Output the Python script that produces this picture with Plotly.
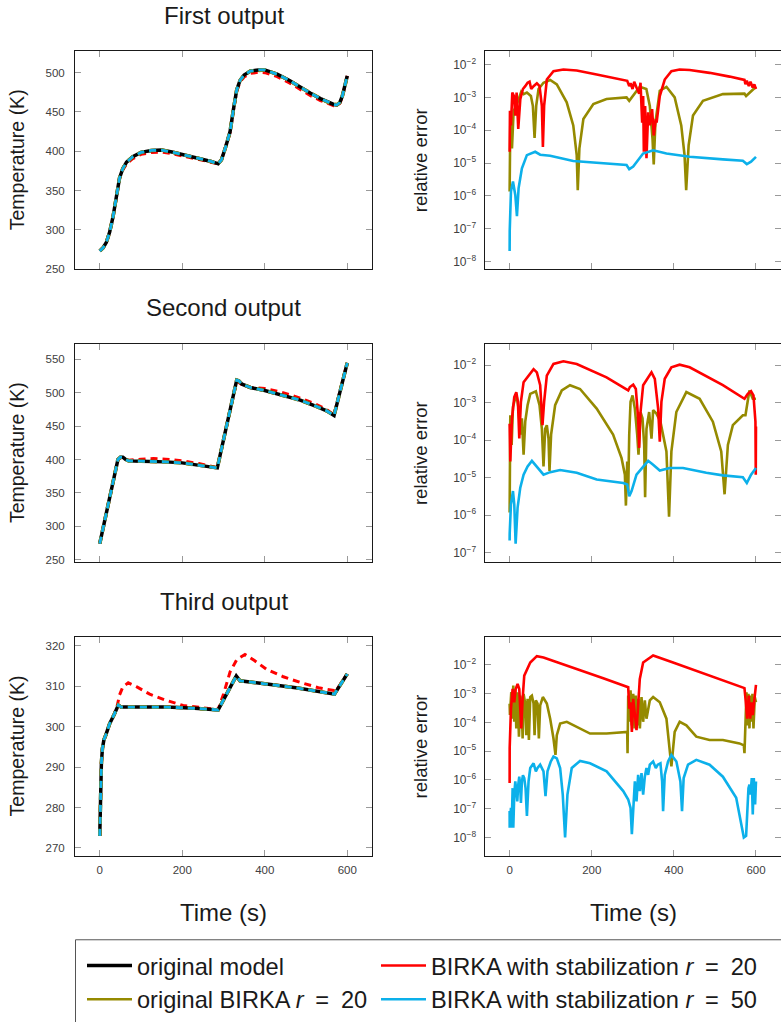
import plotly.graph_objects as go

# ---------------- data: left column (temperatures, K) ----------------
t1 = [0, 8, 16, 24, 32, 40, 48, 56, 65, 80, 100, 125, 150, 175, 200, 225, 250, 270, 287, 295,
      305, 316, 324, 332, 340, 350, 365, 385, 400, 430, 460, 486, 510, 535, 555, 567, 575, 582, 588, 594, 600]
T1_orig = [273, 277, 284, 297, 316, 343, 366, 378, 386, 393, 398.5, 401, 401.5, 399, 396, 393, 389.5, 387, 384, 389,
           405, 425, 453, 478, 490, 497, 502, 503.5, 503.5, 498, 490, 481.5, 474, 467, 462, 459.5, 459, 462, 470, 482, 496]
T1_stab20 = [273, 277, 284, 297, 316, 343, 365, 376, 384, 390.5, 396, 398.5, 399, 397, 394, 391, 388, 386, 384, 389,
             405, 424, 452, 476, 488, 494.5, 499, 500.5, 500, 495, 487, 478.5, 471, 464.5, 460, 458, 458, 461, 469, 481, 496]

t2 = [0, 44, 50, 56, 62, 70, 100, 130, 160, 200, 240, 270, 285, 332, 337, 345, 365, 400, 440, 486, 520, 550, 568, 600]
T2_orig = [274, 400, 403.5, 403.5, 400.5, 398, 397.5, 397.5, 396.5, 395, 392, 389, 387.5, 519, 518, 513, 508, 503.5,
           497, 489, 481, 473, 466, 545]
T2_stab20 = [274, 400, 403, 402.5, 400, 399, 400.5, 401.5, 400.5, 398, 394, 390, 388, 518, 516, 512, 508, 506.5,
             501, 492, 484, 475, 467, 545]

t3 = [0, 1, 2.5, 4, 6.5, 10, 15, 24, 35, 45, 52, 100, 162, 230, 287, 331, 340, 405, 480, 569, 600]
T3_orig = [273, 280, 287, 291, 294.6, 296.7, 298, 300.7, 303, 305.3, 304.8, 304.8, 304.8, 304.5, 304.1, 312.5, 311.3,
           310.5, 309.5, 308, 313]
t3_stab20 = [0, 1, 2.5, 4, 6.5, 10, 15, 24, 35, 42, 48, 56, 69, 90, 121, 160, 202, 250, 287, 300, 316, 332, 352, 375,
             405, 445, 486, 530, 567, 571, 600]
T3_stab20 = [273, 280, 287, 291, 294.6, 296.7, 298, 300.7, 303, 305, 307.8, 309.8, 310.8, 309.8, 308, 306.5, 305.2,
             304.6, 304.2, 308, 313.5, 316.5, 317.8, 316.3, 314.1, 312.3, 310.9, 309.6, 308.9, 308.6, 313]

# ---------------- data: right column (relative errors) ----------------
e1o_t = [0, 0.4, 1.6, 5.7, 9.7, 16.2, 21.8, 28.3, 34, 42, 51.8, 56.6, 60.7, 64.7, 70.4, 82.5, 98.7, 114.9, 139, 155,
         163.4, 165.9, 169.9, 179.6, 203.9, 236, 284.8, 291.3, 317, 333, 341.4, 348, 351, 355, 365.7, 382, 402, 418,
         426, 430, 436, 446.6, 470.9, 519.4, 572, 576, 600]
e1o = [1.35e-6, 2.2e-5, 1.55e-4, 2.8e-5, 3.9e-4, 5.5e-4, 8.9e-4, 1.5e-3, 1.26e-3, 1.4e-3, 1.1e-3, 5.5e-4, 5.8e-5,
       5.5e-4, 1.8e-3, 2.8e-3, 3.4e-3, 2.5e-3, 7.1e-4, 1.4e-4, 1.74e-5, 1.5e-6, 2.8e-5, 2.2e-4, 6.3e-4, 8.9e-4, 1.0e-3,
       7.9e-4, 2.1e-3, 1.8e-3, 5.5e-4, 5.5e-5, 9.1e-6, 1.7e-4, 1.6e-3, 2.1e-3, 1.0e-3, 1.4e-4, 1.74e-5, 1.5e-6, 3.5e-5,
       2.8e-4, 7.9e-4, 1.26e-3, 1.3e-3, 1.1e-3, 2.1e-3]
e1r_t = [0, 0.8, 3.2, 6.5, 10.5, 13.8, 17, 21, 26, 32.4, 38, 43.7, 48.5, 52.6, 58.3, 66.3, 72.8, 78.5, 81, 84,
         90.6, 106.8, 131, 163.4, 212, 276.7, 286.4, 291.3, 294.5, 299.4, 303.4, 309, 315.5, 318.8, 322.8, 325.2,
         326.9, 330, 333.3, 337.4, 341.4, 347, 351, 356, 358, 365.7, 377.8, 394, 414, 438.5, 487, 535.6, 572, 574.4,
         577.7, 582.5, 586.6, 592, 596, 600]
e1r = [2.2e-5, 3.9e-4, 1.4e-4, 1.4e-3, 1.1e-3, 2.8e-4, 1.4e-3, 1.1e-4, 8.9e-4, 1.8e-3, 2.2e-3, 2.8e-3, 3.0e-3, 1.8e-3,
       2.2e-3, 2.7e-3, 2.2e-3, 5.5e-4, 3.1e-5, 5.5e-4, 3.5e-3, 6.3e-3, 7.1e-3, 6.6e-3, 5.0e-3, 3.4e-3, 3.2e-3, 2.2e-3,
       2.7e-3, 1.8e-3, 3.0e-3, 2.0e-3, 1.3e-3, 2.8e-3, 1.7e-4, 1.1e-3, 2.2e-5, 5.5e-4, 1.4e-5, 3.5e-4, 1.4e-4, 4.4e-4,
       6.9e-5, 2.2e-4, 1.7e-4, 1.1e-3, 3.5e-3, 6.3e-3, 7.1e-3, 6.8e-3, 5.6e-3, 4.3e-3, 3.4e-3, 2.5e-3, 3.2e-3, 2.2e-3,
       3.0e-3, 2.0e-3, 2.5e-3, 1.8e-3]
e1b_t = [0, 0.2, 3.2, 8.1, 13.8, 17.8, 21.8, 29.9, 42, 62.3, 74.4, 98.7, 155, 236, 284.8, 291.3, 301, 325, 349.5, 382,
         438.5, 519.4, 568, 577.7, 588, 600]
e1b = [2.1e-8, 8.5e-8, 1.35e-6, 2.75e-6, 1.07e-6, 2.4e-7, 1.7e-6, 6.9e-6, 1.74e-5, 2.2e-5, 1.8e-5, 1.66e-5, 1.15e-5,
       9.5e-6, 8.7e-6, 6.5e-6, 7.8e-6, 1.95e-5, 2.45e-5, 1.95e-5, 1.55e-5, 1.29e-5, 1.17e-5, 9.3e-6, 1.1e-5, 1.55e-5]

e2o_t = [0, 0.1, 1.6, 4.9, 8.1, 16.2, 21.8, 25.9, 29.9, 34, 38, 43.7, 50.2, 63.9, 72.8, 78.5, 82.5, 86.6, 90.6, 94.7,
         97.1, 101, 110.8, 127, 147, 171.5, 212, 252, 272.6, 280.7, 283.2, 286.4, 288.8, 291.3, 294.5, 299.4, 305,
         310.7, 313.9, 318.8, 323.6, 327.7, 330, 333.3, 339.8, 345.5, 349.5, 357.6, 367.3, 381.9, 388.3, 394, 406,
         430.4, 462.8, 495, 515.4, 523.5, 531.6, 543.7, 568, 574.4, 584, 592.2, 600]
e2o = [1.17e-6, 2.7e-5, 4.6e-4, 7.4e-5, 7.6e-4, 1.7e-3, 6.9e-4, 1.4e-4, 3.8e-4, 4.1e-5, 3.1e-4, 8.5e-4, 1.7e-3,
       2.0e-3, 8.5e-4, 2.0e-4, 2.0e-5, 2.0e-4, 2.5e-4, 1.1e-4, 1.5e-5, 1.4e-4, 8.5e-4, 2.1e-3, 2.9e-3, 2.3e-3, 6.9e-4,
       1.4e-4, 3.3e-5, 1.2e-5, 1.8e-6, 2.7e-5, 4.4e-6, 1.4e-4, 1.05e-3, 1.55e-3, 6.9e-4, 1.4e-4, 4.1e-5, 5.6e-4,
       3.8e-4, 7.4e-5, 3.0e-6, 2.0e-4, 5.6e-4, 1.1e-4, 6.3e-4, 5.1e-4, 3.1e-4, 5.0e-5, 9.1e-7, 5.0e-5, 5.6e-4, 1.9e-3,
       1.26e-3, 3.1e-4, 5.0e-5, 3.6e-6, 7.4e-5, 2.5e-4, 4.6e-4, 4.6e-4, 2.1e-3, 1.26e-3, 1.26e-3]
e2r_t = [0, 1.6, 5.7, 11.3, 16.2, 20.2, 23.5, 27.5, 34, 46.1, 58.3, 66.3, 74.4, 80, 84, 90.6, 106.8, 131, 163.4, 236,
         288.8, 292.9, 301, 307.4, 313, 315.5, 318.8, 325.2, 337.4, 345.5, 353.6, 361.7, 365.7, 369.7, 377.8, 394, 414,
         438.5, 519.4, 572, 580, 588, 593.9, 598.7, 599.5, 600]
e2r = [2.75e-4, 2.7e-5, 3.8e-4, 1.4e-3, 1.9e-3, 1.05e-3, 1.1e-4, 1.05e-3, 3.5e-3, 5.2e-3, 7.8e-3, 6.4e-3, 2.9e-3,
       2.5e-4, 1.05e-3, 5.2e-3, 1.07e-2, 1.26e-2, 1.07e-2, 4.7e-3, 2.1e-3, 2.6e-3, 3.0e-3, 2.3e-3, 3.8e-4, 6.2e-5,
       5.6e-4, 2.9e-3, 4.7e-3, 6.4e-3, 4.3e-3, 6.9e-4, 9.1e-5, 1.05e-3, 4.3e-3, 8.7e-3, 1.02e-2, 8.7e-3, 2.9e-3,
       1.26e-3, 1.7e-3, 2.0e-3, 1.55e-3, 3.1e-4, 1.2e-5, 2.3e-4]
e2b_t = [0, 0.1, 3.2, 8.1, 11.3, 14.6, 19.4, 25.9, 34, 43.7, 54.2, 66.3, 82.5, 98.7, 123, 163.4, 212, 276.7, 286.4,
         291.3, 297, 309, 325.2, 337.4, 349.5, 365.7, 390, 422.3, 479, 519.4, 568, 577.7, 588, 600]
e2b = [2.1e-7, 3.2e-7, 1.95e-6, 4.4e-6, 1.95e-6, 1.74e-7, 1.6e-6, 5.4e-6, 1.2e-5, 2.0e-5, 2.8e-5, 2.0e-5, 1.2e-5,
       1.4e-5, 1.6e-5, 1.35e-5, 8.9e-6, 7.2e-6, 6.6e-6, 3.2e-6, 4.4e-6, 1.2e-5, 2.0e-5, 2.8e-5, 2.2e-5, 1.55e-5,
       1.8e-5, 1.8e-5, 1.35e-5, 1.15e-5, 1.02e-5, 7.2e-6, 1.2e-5, 1.8e-5]

e3o_t = [0, 0.8, 2.4, 4, 6.5, 8.9, 11.3, 13.8, 16.2, 19.4, 22.7, 25.9, 29.1, 31.6, 34, 38, 40.5, 43.7, 46.9, 50.2,
         54.2, 58.3, 60.7, 63.9, 68, 71.2, 74.4, 80.9, 90.6, 98.7, 106.8, 111.7, 114.9, 123, 139.2, 163.4, 195.8,
         236.2, 276.7, 286.4, 287.2, 288.8, 291.3, 294.5, 297.7, 301, 304.2, 307.4, 310.7, 313.9, 317.2, 321.2,
         325.2, 329.3, 333.3, 341.4, 349.5, 365.7, 381.9, 394, 402, 414.2, 430.4, 454.7, 487, 519.4, 559.9, 570.4,
         572, 574.4, 576.9, 579.3, 581.7, 584.1, 586.6, 589, 591.4, 593.9, 597.1, 600]
e3o = [4.5e-4, 1.8e-4, 4.5e-4, 1.12e-3, 1.35e-4, 1.9e-3, 1.05e-4, 1.45e-3, 6.2e-5, 1.12e-3,
       3.2e-5, 8.5e-4, 5.0e-4, 2.75e-5, 9.8e-4, 4.5e-4, 3.6e-5, 6.6e-4, 2.45e-5, 7.6e-4,
       8.5e-4, 4.5e-4, 3.6e-5, 5.8e-4, 4.5e-4, 2.75e-5, 3.9e-4, 7.6e-4, 4.5e-4, 1.35e-4,
       2.75e-5, 7.4e-6, 3.6e-5, 9.1e-5, 1.05e-4, 6.9e-5, 4.1e-5, 4.1e-5, 4.7e-5, 4.7e-5,
       8.5e-6, 8.5e-4, 1.05e-4, 1.3e-3, 7.9e-5, 9.8e-4, 6.2e-5, 8.5e-4, 7.9e-5, 6.6e-4,
       6.2e-5, 7.6e-4, 1.05e-4, 5.8e-4, 1.35e-4, 5.8e-4, 7.6e-4, 5.0e-4, 1.35e-4, 2.95e-6,
       4.7e-5, 1.05e-4, 7.9e-5, 3.2e-5, 2.45e-5, 2.45e-5, 1.86e-5, 1.6e-5, 8.5e-6, 1.8e-4,
       1.12e-3, 7.9e-5, 9.8e-4, 6.2e-5, 8.5e-4, 1.05e-4, 9.8e-4, 6.2e-5, 7.6e-4, 5.0e-4]
e3r_t = [0, 0.1, 3.2, 7.3, 11.3, 14.6, 19.4, 23.5, 25.9, 28.3, 31.6, 35.6, 50.2, 66.3, 82.5, 147.2, 228, 288.8, 291.3,
         294.5, 297.7, 301, 305, 309, 313, 317, 325.2, 349.5, 398, 519.4, 572, 576, 578.5, 582.5, 585.8, 589.8, 592.2,
         596.3, 600]
e3r = [7.8e-7, 1.26e-5, 3.0e-4, 1.45e-3, 5.0e-4, 1.45e-3, 2.15e-3, 1.45e-3, 3.0e-4, 6.2e-5, 6.6e-4, 4.2e-3, 1.2e-2,
       2.0e-2, 1.8e-2, 8.7e-3, 3.4e-3, 1.66e-3, 3.0e-4, 5.0e-4, 4.7e-5, 6.6e-4, 2.3e-4, 5.4e-5, 3.9e-4, 3.2e-3, 1.2e-2,
       2.1e-2, 1.2e-2, 2.9e-3, 1.55e-3, 3.9e-4, 1.35e-4, 8.5e-4, 1.35e-4, 5.0e-4, 1.8e-4, 6.6e-4, 2.0e-3]
e3b_t = [0, 0.1, 3.2, 4.9, 7.3, 8.9, 11.3, 13.8, 16.2, 18.6, 21, 23.5, 25.9, 27.5, 29.9, 32.4, 35.6, 38.8, 42.1, 46.1,
         50.2, 58.3, 63.9, 68, 74.4, 82.5, 87.4, 92.2, 100.3, 106.8, 114.9, 123, 129.4, 135.1, 140.8, 151.3, 171.5,
         195.8, 236.2, 276.7, 288.8, 294.5, 297.7, 301, 305, 309, 313, 317.2, 321.2, 325.2, 329.3, 333.3, 337.4,
         341.4, 349.5, 356, 360.8, 367.3, 371.4, 373.8, 377.8, 385.9, 394, 406.1, 415.9, 419.9, 423.9, 434.5, 454.7,
         487, 519.4, 551.8, 566.3, 570.4, 576, 578.5, 581.7, 584.1, 586.6, 589.8, 592.2, 594.7, 597.9, 600]
e3b = [8.3e-8, 2.2e-8, 1.07e-7, 2.2e-8, 5.2e-7, 2.2e-8, 3.1e-7, 8.9e-7, 4.1e-7, 1.8e-7,
       6.9e-7, 1.3e-6, 5.2e-7, 1.6e-7, 8.9e-7, 1.45e-6, 1.17e-6, 5.2e-7, 5.6e-8, 8.9e-7,
       2.6e-6, 3.8e-6, 2.0e-6, 2.6e-6, 3.4e-6, 2.0e-6, 2.75e-7, 2.0e-6, 4.4e-6, 6.5e-6,
       5.6e-6, 2.6e-6, 3.1e-7, 1.0e-8, 3.1e-7, 2.6e-6, 4.6e-6, 3.8e-6, 2.0e-6, 4.1e-7,
       2.1e-7, 1.07e-7, 1.3e-8, 1.07e-7, 8.9e-7, 1.8e-7, 1.5e-6, 4.1e-7, 1.74e-6, 3.1e-7,
       1.3e-6, 2.6e-6, 1.5e-6, 3.4e-6, 4.4e-6, 2.6e-6, 3.4e-6, 3.8e-6, 8.9e-7, 8.3e-8,
       1.5e-6, 4.4e-6, 7.4e-6, 4.4e-6, 8.9e-7, 8.3e-8, 1.17e-6, 3.4e-6, 5.0e-6, 3.4e-6,
       1.3e-6, 2.4e-7, 2.2e-8, 1.0e-8, 1.15e-8, 1.07e-7, 5.2e-7, 6.9e-7, 3.1e-7, 1.17e-6,
       6.3e-8, 1.17e-6, 1.4e-7, 8.9e-7]

titles = ["First output", "Second output", "Third output"]
x_ticks = [0, 200, 400, 600]
EQ = "\u2002=\u2002"
names = ["original model", "original BIRKA <i>r</i>" + EQ + "20",
         "BIRKA with stabilization <i>r</i>" + EQ + "20", "BIRKA with stabilization <i>r</i>" + EQ + "50"]

# ---------------- style ----------------
W, H = 781, 1022
FONT = "Liberation Sans"
C_BLACK, C_OLIVE, C_RED, C_BLUE = "#000000", "#958a00", "#ff0000", "#0cb0ea"
DASH = "7px,5px"


def X(px):
    return px / W


def Y(py):
    return 1 - py / H


fig = go.Figure()

left = [(t1, T1_orig, t1, T1_stab20), (t2, T2_orig, t2, T2_stab20), (t3, T3_orig, t3_stab20, T3_stab20)]
right = [(e1o_t, e1o, e1r_t, e1r, e1b_t, e1b), (e2o_t, e2o, e2r_t, e2r, e2b_t, e2b),
         (e3o_t, e3o, e3r_t, e3r, e3b_t, e3b)]

for i in range(3):
    xl, yl = f"x{2 * i + 1}", f"y{2 * i + 1}"
    xr, yr = f"x{2 * i + 2}", f"y{2 * i + 2}"
    tt, Torig, tr, Tr = left[i]
    first = i == 0
    fig.add_trace(go.Scatter(x=tr, y=Tr, mode="lines", xaxis=xl, yaxis=yl, showlegend=False,
                             line=dict(color=C_RED, width=3, dash=DASH)))
    fig.add_trace(go.Scatter(x=tt, y=Torig, mode="lines", xaxis=xl, yaxis=yl, name=names[0],
                             showlegend=first, legend="legend", legendrank=1,
                             line=dict(color=C_BLACK, width=3.5)))
    fig.add_trace(go.Scatter(x=tt, y=Torig, mode="lines", xaxis=xl, yaxis=yl, showlegend=False,
                             line=dict(color=C_OLIVE, width=3.6, dash=DASH)))
    fig.add_trace(go.Scatter(x=tt, y=Torig, mode="lines", xaxis=xl, yaxis=yl, showlegend=False,
                             line=dict(color=C_BLUE, width=2.8, dash=DASH)))

    ot, ov, rt, rv, bt, bv = right[i]
    fig.add_trace(go.Scatter(x=ot, y=ov, mode="lines", xaxis=xr, yaxis=yr, name=names[1],
                             showlegend=first, legend="legend", legendrank=2,
                             line=dict(color=C_OLIVE, width=2.6)))
    fig.add_trace(go.Scatter(x=rt, y=rv, mode="lines", xaxis=xr, yaxis=yr, name=names[2],
                             showlegend=first, legend="legend2", legendrank=1,
                             line=dict(color=C_RED, width=2.6)))
    fig.add_trace(go.Scatter(x=bt, y=bv, mode="lines", xaxis=xr, yaxis=yr, name=names[3],
                             showlegend=first, legend="legend2", legendrank=2,
                             line=dict(color=C_BLUE, width=2.6)))

base_ax = dict(showline=True, linecolor="#1a1a1a", linewidth=1, mirror="ticks", ticks="inside",
               ticklen=6, tickwidth=1, tickcolor="#9a9a9a", showgrid=False, zeroline=False,
               automargin=False, tickfont=dict(family=FONT, size=11.5, color="#404040"))

row_py = [(52, 272), (348, 568), (644, 865)]
left_ranges = [[250, 527], [246.6, 572.8], [268.1, 322.1]]
left_dtick = [50, 50, 10]
left_tick0 = [250, 250, 270]
right_ranges = [[-8.23, -1.6], [-7.245, -1.446], [-8.63, -1.036]]

layout = dict(width=W, height=H, margin=dict(l=0, r=0, t=0, b=0), paper_bgcolor="white",
              plot_bgcolor="white", font=dict(family=FONT, color="#222"))
for i in range(3):
    top, bot = row_py[i]
    ydom = [Y(bot), Y(top)]
    last = i == 2
    nl, nr = 2 * i + 1, 2 * i + 2
    layout[f"xaxis{nl}"] = dict(base_ax, domain=[X(75), X(372)], range=[-60, 660], tickvals=x_ticks,
                                showticklabels=last, anchor=f"y{nl}", ticklabelstandoff=4)
    layout[f"yaxis{nl}"] = dict(base_ax, domain=ydom, range=left_ranges[i], dtick=left_dtick[i],
                                tick0=left_tick0[i], anchor=f"x{nl}", ticklabelstandoff=7)
    layout[f"xaxis{nr}"] = dict(base_ax, domain=[X(485), 0.9995], range=[-60, 660], tickvals=x_ticks,
                                showticklabels=last, anchor=f"y{nr}", ticklabelstandoff=4)
    layout[f"yaxis{nr}"] = dict(base_ax, domain=ydom, type="log", range=right_ranges[i], dtick=1,
                                exponentformat="power", anchor=f"x{nr}", ticklabelstandoff=6,
                                tickfont=dict(family=FONT, size=9.6, color="#404040"))

leg_common = dict(orientation="v", xanchor="left", yanchor="top", bgcolor="rgba(0,0,0,0)",
                  borderwidth=0, font=dict(family=FONT, size=23.6, color="#1a1a1a"),
                  itemwidth=45, tracegroupgap=0, traceorder="normal")
layout["legend"] = dict(leg_common, x=X(82), y=Y(954))
layout["legend2"] = dict(leg_common, x=X(376), y=Y(954))
layout["showlegend"] = True

annotations = []
for i in range(3):
    annotations.append(dict(text=titles[i], x=X(223.5), y=Y([16, 311, 608][i]), xref="paper", yref="paper",
                            showarrow=False, xanchor="center", yanchor="middle",
                            font=dict(family=FONT, size=24, color="#1a1a1a")))
    cy = (row_py[i][0] + row_py[i][1]) / 2
    annotations.append(dict(text="Temperature (K)", x=X(17), y=Y(cy), xref="paper", yref="paper",
                            showarrow=False, textangle=-90, xanchor="center", yanchor="middle",
                            font=dict(family=FONT, size=19.5, color="#1a1a1a")))
    annotations.append(dict(text="relative error", x=X(420), y=Y(cy), xref="paper", yref="paper",
                            showarrow=False, textangle=-90, xanchor="center", yanchor="middle",
                            font=dict(family=FONT, size=18.5, color="#1a1a1a")))
for cx in (223.5, 633):
    annotations.append(dict(text="Time (s)", x=X(cx), y=Y(922), xref="paper", yref="paper", showarrow=False,
                            xanchor="center", yanchor="middle", font=dict(family=FONT, size=24, color="#1a1a1a")))
layout["annotations"] = annotations
layout["shapes"] = [dict(type="rect", xref="paper", yref="paper", x0=X(75.5), x1=1.02, y0=-0.02, y1=Y(950),
                         line=dict(color="#555555", width=1), fillcolor="rgba(0,0,0,0)", layer="above")]

fig.update_layout(layout)
fig.write_html("out.html")
